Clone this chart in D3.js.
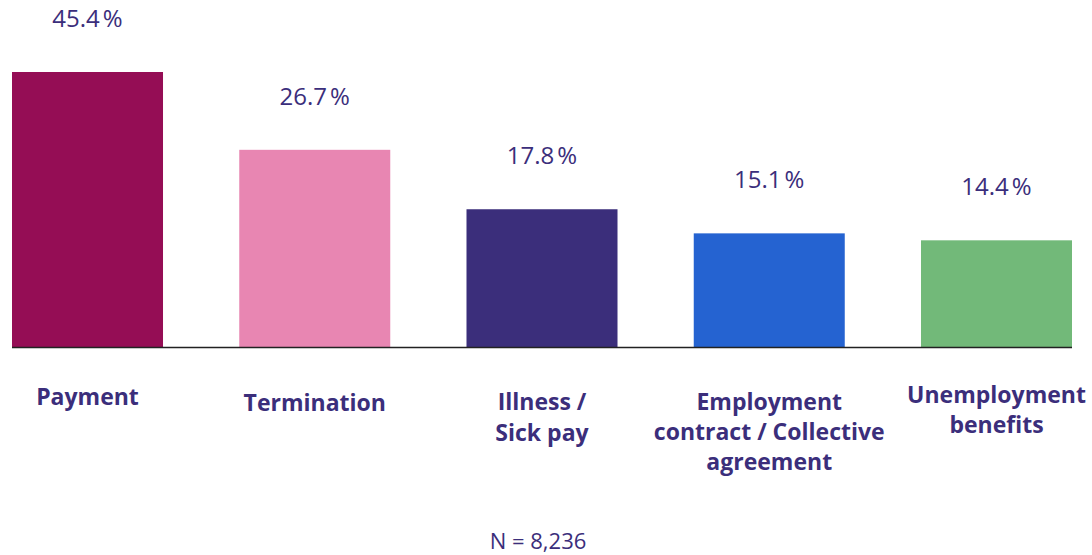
<!DOCTYPE html>
<html>
<head>
<meta charset="utf-8">
<script src="https://cdn.jsdelivr.net/npm/d3@7"></script>
<style>
  body { margin: 0; background: #fff; }
  text { font-family: "Open Sans", sans-serif; fill: #3b2e7b; }
</style>
</head>
<body>
<div id="chart"></div>
<script>
// data
var categories = ["Payment", "Termination", "Illness / Sick pay", "Employment contract / Collective agreement", "Unemployment benefits"];
var labelLines = [["Payment"], ["Termination"], ["Illness /", "Sick pay"], ["Employment", "contract / Collective", "agreement"], ["Unemployment", "benefits"]];
var shares = [45.4, 26.7, 17.8, 15.1, 14.4];
var colors = ["#950d55", "#e886b2", "#3b2e7b", "#2563d1", "#72b979"];
var sampleNote = "N = 8,236";

// layout
var width = 1092, height = 555;
var baseY = 347;
var labelBase = [405, 411, 410, 410, 403];   // first line baseline of each category label
var lineGap = [0, 0, 31, 30, 30];

var svg = d3.select("#chart")
    .append("svg")
        .attr("width", width)
        .attr("height", height);

var x = d3.scaleBand()
        .domain(categories)
        .range([12, 1072])
        .paddingInner(0.3355)
        .paddingOuter(0);

// bar heights in the original are not proportional; a log scale follows them best
var y = d3.scaleLog()
        .domain([6.955, 45.4])
        .range([baseY, 72]);

var data = categories.map(function(c, i) {
    return {cat: c, value: shares[i], color: colors[i], lines: labelLines[i], i: i};
});

svg.selectAll(".bar")
    .data(data)
  .enter().append("rect")
    .attr("class", "bar")
    .attr("x", function(d) { return x(d.cat); })
    .attr("width", x.bandwidth())
    .attr("y", function(d) { return y(d.value); })
    .attr("height", function(d) { return baseY - y(d.value); })
    .attr("fill", function(d) { return d.color; });

// baseline
svg.append("line")
    .attr("x1", x.range()[0]).attr("x2", x.range()[1])
    .attr("y1", baseY + 0.5).attr("y2", baseY + 0.5)
    .attr("stroke", "#222")
    .attr("stroke-width", 1.6);

// value labels
svg.selectAll(".value")
    .data(data)
  .enter().append("text")
    .attr("class", "value")
    .attr("x", function(d) { return x(d.cat) + x.bandwidth() / 2; })
    .attr("y", function(d) { return y(d.value) - 45; })
    .attr("text-anchor", "middle")
    .style("font-size", "24px")
    .text(function(d) { return d3.format(".1f")(d.value) + "\u202F%"; });

// category labels
var cat = svg.selectAll(".cat")
    .data(data)
  .enter().append("text")
    .attr("class", "cat")
    .attr("text-anchor", "middle")
    .style("font-size", "23px")
    .style("font-weight", "700");

cat.selectAll("tspan")
    .data(function(d) { return d.lines.map(function(l, j) { return {t: l, j: j, d: d}; }); })
  .enter().append("tspan")
    .attr("x", function(s) { return x(s.d.cat) + x.bandwidth() / 2; })
    .attr("y", function(s) { return labelBase[s.d.i] + s.j * lineGap[s.d.i]; })
    .text(function(s) { return s.t; });

svg.append("text")
    .attr("x", 538)
    .attr("y", 549)
    .attr("text-anchor", "middle")
    .style("font-size", "22px")
    .text(sampleNote);
</script>
</body>
</html>
